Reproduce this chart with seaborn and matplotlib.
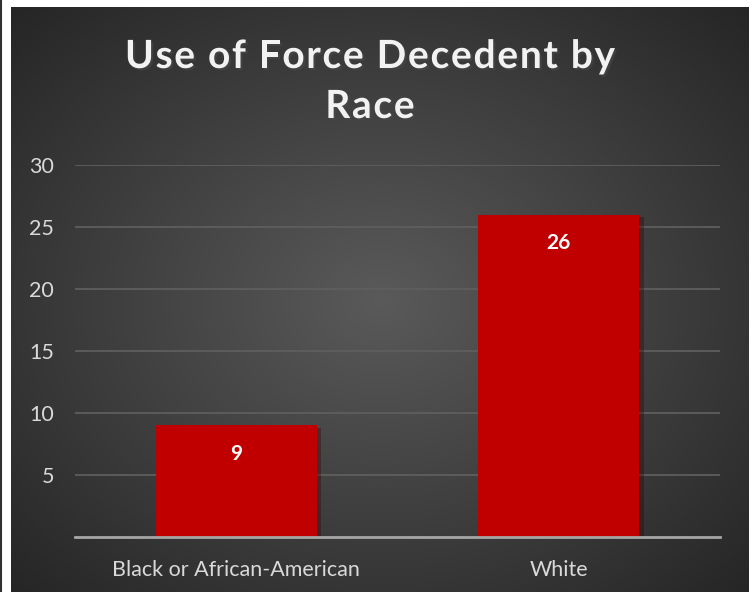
import numpy as np
import pandas as pd
import matplotlib
matplotlib.use("Agg")
import matplotlib.pyplot as plt
import matplotlib.patheffects as pe
import seaborn as sns

categories = ["Black or African-American", "White"]
counts = [9, 26]
yticks = [5, 10, 15, 20, 25, 30]
title_lines = ["Use of Force Decedent by", "Race"]

sns.set_theme(style="dark")
plt.rcParams['font.family'] = ['Lato', 'DejaVu Sans']

W, H = 755, 592
fig = plt.figure(figsize=(W / 100, H / 100), dpi=100, facecolor="white")
renderer = fig.canvas.get_renderer()

# dark radial-gradient panel
bg = fig.add_axes([11 / W, 0, 738 / W, 585 / H])
ny, nx = 300, 380
yy, xx = np.mgrid[0:ny, 0:nx]
cx, cy = nx * 0.5, ny * 0.5
r = np.sqrt(((xx - cx) / nx) ** 2 + ((yy - cy) / ny) ** 2) / 0.7
r = np.clip(r, 0, 1)
inner = np.array([0x5a, 0x5a, 0x5a]) / 255
outer = np.array([0x26, 0x26, 0x26]) / 255
img = inner[None, None, :] * (1 - r[..., None]) + outer[None, None, :] * r[..., None]
bg.imshow(img, aspect="auto", interpolation="bilinear")
bg.set_axis_off()

# thin dark line at left edge
fig.add_artist(plt.Line2D([1.0 / W, 1.0 / W], [0, 1], color="#303030", lw=1.5))

ax = fig.add_axes([75 / W, (H - 537) / H, 645 / W, 372 / H])
ax.patch.set_alpha(0)
df = pd.DataFrame({"race": categories, "count": counts})
sns.barplot(data=df, x="race", y="count", color="#C00000", saturation=1,
            width=0.5, ax=ax, zorder=3, linewidth=0, edgecolor="none",
            path_effects=[pe.SimplePatchShadow(offset=(3, -2), alpha=0.35), pe.Normal()])
ax.set_ylim(0, 30)
ax.set_yticks(yticks)
ax.set_xlim(-0.5, 1.5)
ax.grid(axis="y", color="#5e5e5e", lw=1.3, zorder=0)
ax.grid(axis="x", visible=False)
for s in ["top", "right", "left"]:
    ax.spines[s].set_visible(False)
ax.spines["bottom"].set_color("#a6a6a6")
ax.spines["bottom"].set_linewidth(2)
ax.spines["bottom"].set_zorder(4)
ax.tick_params(axis="y", colors="#d9d9d9", labelsize=15.5, length=0, pad=15)
ax.tick_params(axis="x", colors="#d9d9d9", labelsize=15.5, length=0, pad=16.5)
ax.set_xlabel("")
ax.set_ylabel("")

for cont in ax.containers:
    ax.bar_label(cont, labels=[str(v) for v in counts], label_type="edge",
                 padding=-28, color="white", fontsize=15, fontweight="bold")

# title with letter tracking
tprops = dict(fontsize=28, fontweight="bold", color="#f2f2f2")
shadow = [pe.withSimplePatchShadow(offset=(1.5, -1.5), alpha=0.6)]


def char_width(ch):
    if ch == " ":
        a = fig.text(0, 0, "a a", **tprops)
        b = fig.text(0, 0, "aa", **tprops)
        w = a.get_window_extent(renderer).width - b.get_window_extent(renderer).width
        a.remove(); b.remove()
        return w
    t = fig.text(0, 0, ch, **tprops)
    w = t.get_window_extent(renderer).width
    t.remove()
    return w


line1 = title_lines[0]
widths1 = [char_width(c) for c in line1]
target = 490.0
tracking = (target - sum(widths1)) / (len(line1) - 1)
center_x = 370.0
baselines = [68.0, 118.0]
for line, base in zip(title_lines, baselines):
    ws = [char_width(c) for c in line]
    total = sum(ws) + tracking * (len(line) - 1)
    x = center_x - total / 2
    for c, w in zip(line, ws):
        if c != " ":
            fig.text(x / W, 1 - base / H, c, ha="left", va="baseline",
                     path_effects=shadow, **tprops)
        x += w + tracking

fig.savefig("out.png", dpi=100, facecolor="white")
